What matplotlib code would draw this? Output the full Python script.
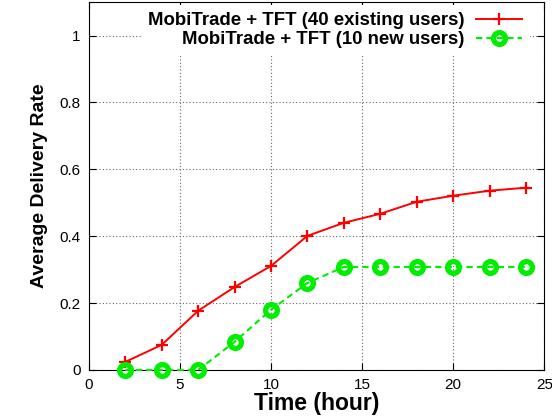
import matplotlib
matplotlib.use('agg')
from matplotlib import pyplot as plt

# data
hours = [2, 4, 6, 8, 10, 12, 14, 16, 18, 20, 22, 24]
existing_users = [0.024, 0.075, 0.177, 0.248, 0.311, 0.401, 0.440, 0.467, 0.503, 0.521, 0.536, 0.545]
new_users = [0.0, 0.0, 0.0, 0.084, 0.180, 0.260, 0.308, 0.308, 0.308, 0.308, 0.308, 0.308]
xticks = [0, 5, 10, 15, 20, 25]
yticks = [0, 0.2, 0.4, 0.6, 0.8, 1]
ytick_labels = ['0', '0.2', '0.4', '0.6', '0.8', '1']

plt.rcParams['font.family'] = ['Liberation Sans', 'DejaVu Sans']

fig = plt.figure(figsize=(5.52, 4.18), dpi=100)
ax = fig.add_axes([0.161, 0.115, 0.825, 0.88])

ax.plot(hours, existing_users, color='#ff0000', lw=1.4, marker='+', ms=9, mew=1.6,
        label='MobiTrade + TFT (40 existing users)', zorder=3, clip_on=False)
ax.plot(hours, new_users, color='#00ee00', lw=1.5, ls=(0, (3, 2)), marker='o', ms=8.5,
        mfc='none', mew=3.8, label='MobiTrade + TFT (10 new users)', zorder=3, clip_on=False)

ax.set_xlim(0, 25)
ax.set_ylim(0, 1.1)
ax.set_xticks(xticks)
ax.set_yticks(yticks)
ax.set_yticklabels(ytick_labels)
ax.tick_params(direction='in', top=True, right=True, labelsize=11, length=5, pad=6)
ax.grid(True, color='#666666', ls=(0, (1, 2)), lw=0.8)

ax.set_xlabel('Time (hour)', fontsize=16.5, fontweight='bold', labelpad=0)
ax.set_ylabel('Average Delivery Rate', fontsize=14, fontweight='bold', labelpad=8)

leg = ax.legend(loc='upper right', bbox_to_anchor=(0.974, 1.0), markerfirst=False,
                frameon=True, fancybox=False, edgecolor='none', framealpha=1,
                prop={'size': 13.4, 'weight': 'bold'},
                handlelength=2.5, borderaxespad=0.15, labelspacing=0.1, handletextpad=0.6)
for t in leg.get_texts():
    t.set_ha('right')
leg._legend_box.align = 'right'

fig.savefig('out.png', dpi=100)
